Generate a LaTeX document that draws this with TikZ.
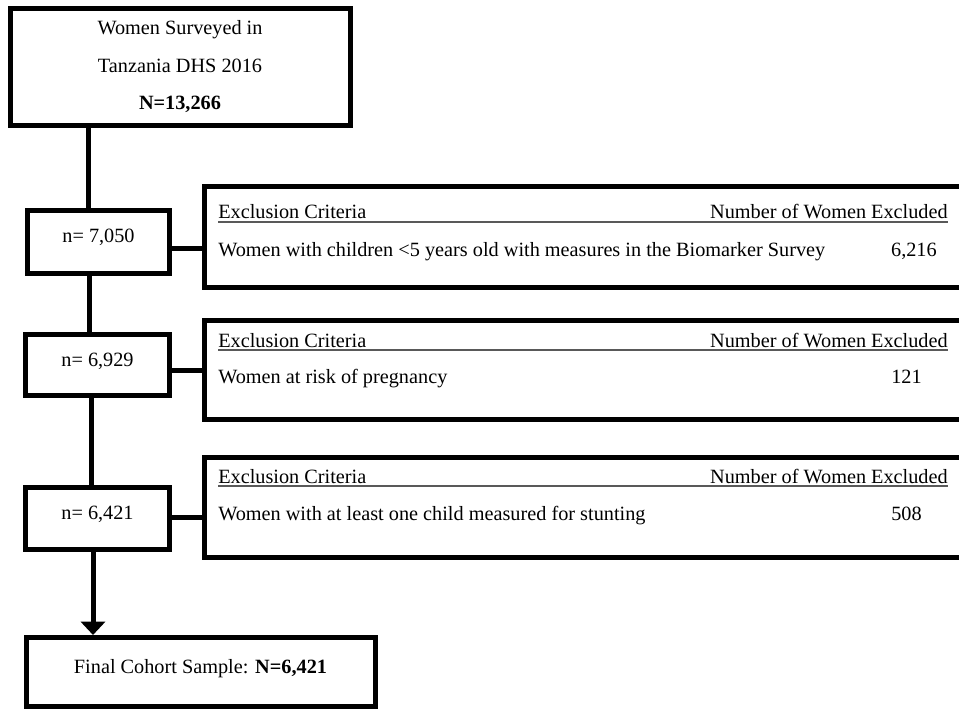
\documentclass[tikz,border=0pt]{standalone}
\usepackage{fontspec}
\setmainfont{Liberation Serif}
\usetikzlibrary{arrows.meta,fit}
\begin{document}
\begin{tikzpicture}[x=0.75pt,y=-0.75pt,
  box/.style={draw=black, line width=3.75pt, inner sep=0pt},
  conn/.style={draw=black, line width=3.75pt},
  txt/.style={inner sep=0pt, font=\fontsize{15.2}{18}\selectfont},
  hrule/.style={draw=black!65, line width=0.9pt}]
\useasboundingbox (0,0) rectangle (959,709);
\fill[white] (0,0) rectangle (959,709);
\clip (0,0) rectangle (959,709);

% corner coordinates
\coordinate (t1) at (10,8.5);     \coordinate (t2) at (350,125.5);
\coordinate (a1) at (27.5,210.5); \coordinate (a2) at (169.5,273);
\coordinate (b1) at (25.5,334.5); \coordinate (b2) at (169.5,395.5);
\coordinate (c1) at (25.5,487.5); \coordinate (c2) at (169.5,549);
\coordinate (f1) at (26,637.5);   \coordinate (f2) at (375.5,706.5);
\coordinate (ra1) at (204,187);   \coordinate (ra2) at (1000,287.5);
\coordinate (rb1) at (204,320);   \coordinate (rb2) at (1000,419.5);
\coordinate (rc1) at (204,457);   \coordinate (rc2) at (1000,557.5);

% boxes
\node[box, fit=(t1)(t2)] (top) {};
\node[box, fit=(a1)(a2)] (n1) {};
\node[box, fit=(b1)(b2)] (n2) {};
\node[box, fit=(c1)(c2)] (n3) {};
\node[box, fit=(f1)(f2)] (final) {};
\node[box, fit=(ra1)(ra2)] (r1) {};
\node[box, fit=(rb1)(rb2)] (r2) {};
\node[box, fit=(rc1)(rc2)] (r3) {};

% connector guides
\coordinate (v1) at (88.5,0);
\coordinate (v2) at (89.5,0);
\coordinate (v3) at (91,0);
\coordinate (v4) at (93,0);
\coordinate (h1) at (0,248);
\coordinate (h2) at (0,370.5);
\coordinate (h3) at (0,517.5);

% vertical connectors
\draw[conn] (top.south -| v1) -- (n1.north -| v1);
\draw[conn] (n1.south -| v2) -- (n2.north -| v2);
\draw[conn] (n2.south -| v3) -- (n3.north -| v3);
\draw[conn, -{Triangle[width=18pt,length=10pt]}] (n3.south -| v4) -- (final.north -| v4);

% horizontal connectors
\draw[conn] (n1.east |- h1) -- (r1.west |- h1);
\draw[conn] (n2.east |- h2) -- (r2.west |- h2);
\draw[conn] (n3.east |- h3) -- (r3.west |- h3);

% top box text
\node[txt, anchor=base] (tl1) at (180,35) {Women Surveyed in};
\node[txt, anchor=base] (tl2) at (180,73) {Tanzania DHS 2016};
\node[txt, anchor=base] (tl3) at (180,110) {\textbf{N=13,266}};

% n boxes text
\node[txt, anchor=base] (n1t) at (98.5,243) {n= 7,050};
\node[txt, anchor=base] (n2t) at (97.5,366) {n= 6,929};
\node[txt, anchor=base] (n3t) at (97.5,519) {n= 6,421};

% final text
\node[txt, anchor=base] (ft) at (200.5,673) {Final Cohort Sample: \textbf{N=6,421}};

% row 1
\draw[hrule] (218,222) -- (948,222);
\node[txt, anchor=base west] (r1h) at (218,219) {Exclusion Criteria};
\node[txt, anchor=base east] (r1n) at (948,219) {Number of Women Excluded};
\node[txt, anchor=base west] (r1b) at (218,257) {Women with children <5 years old with measures in the Biomarker Survey};
\node[txt, anchor=base east] (r1v) at (937,257) {6,216};

% row 2
\draw[hrule] (218,350) -- (948,350);
\node[txt, anchor=base west] (r2h) at (218,347) {Exclusion Criteria};
\node[txt, anchor=base east] (r2n) at (948,347) {Number of Women Excluded};
\node[txt, anchor=base west] (r2b) at (218,383) {Women at risk of pregnancy};
\node[txt, anchor=base east] (r2v) at (922,383) {121};

% row 3
\draw[hrule] (218,486) -- (948,486);
\node[txt, anchor=base west] (r3h) at (218,483) {Exclusion Criteria};
\node[txt, anchor=base east] (r3n) at (948,483) {Number of Women Excluded};
\node[txt, anchor=base west] (r3b) at (218,520) {Women with at least one child measured for stunting};
\node[txt, anchor=base east] (r3v) at (922,520) {508};
\end{tikzpicture}
\end{document}
